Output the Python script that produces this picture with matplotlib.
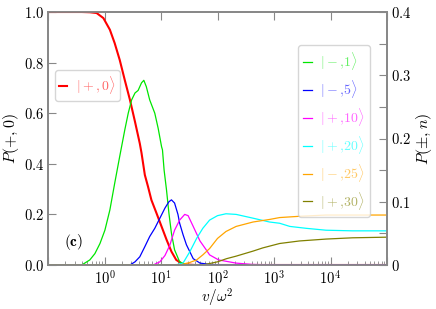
import numpy as np
import matplotlib
matplotlib.use("Agg")
import matplotlib.pyplot as plt
from matplotlib.ticker import FixedLocator, FuncFormatter, LogLocator, NullFormatter, MultipleLocator

plt.rcParams['mathtext.fontset'] = 'cm'
plt.rcParams['font.family'] = ['DejaVu Serif']

# ---- data (log10 of v/omega^2, probabilities) ----
red_lg = [-1.0, -0.4, -0.26, -0.14, -0.02, 0.095, 0.18, 0.27, 0.36, 0.45, 0.54, 0.625, 0.655,
          0.714, 0.77, 0.83, 0.92, 1.01, 1.1, 1.185, 1.27, 1.39, 1.6, 5.0]
red_p = [1.0, 1.0, 0.999, 0.996, 0.976, 0.93, 0.877, 0.81, 0.73, 0.653, 0.566, 0.48, 0.443,
         0.356, 0.31, 0.257, 0.205, 0.152, 0.099, 0.053, 0.02, 0.003, 0.0, 0.0]

green_lg = [-1.0, -0.4, -0.35, -0.26, -0.17, -0.08, 0.007, 0.095, 0.18, 0.27, 0.36, 0.42, 0.48,
            0.54, 0.595, 0.655, 0.696, 0.74, 0.8, 0.89, 0.95, 1.01, 1.026, 1.055, 1.097, 1.14,
            1.185, 1.24, 1.33, 1.45, 5.0]
green_p = [0.0, 0.0, 0.003, 0.008, 0.018, 0.034, 0.055, 0.087, 0.129, 0.172, 0.214, 0.240, 0.261,
           0.272, 0.276, 0.288, 0.292, 0.282, 0.261, 0.240, 0.216, 0.187, 0.182, 0.150, 0.119,
           0.082, 0.050, 0.024, 0.005, 0.0, 0.0]

blue_lg = [-1.0, 0.45, 0.54, 0.625, 0.714, 0.8, 0.89, 0.98, 1.07, 1.14, 1.185, 1.24, 1.30, 1.33,
           1.39, 1.45, 1.57, 1.69, 1.86, 2.1, 5.0]
blue_p = [0.0, 0.0, 0.005, 0.013, 0.029, 0.045, 0.058, 0.074, 0.090, 0.100, 0.103, 0.098, 0.080,
          0.066, 0.048, 0.032, 0.010, 0.003, 0.001, 0.0, 0.0]

magenta_lg = [-1.0, 0.86, 0.98, 1.07, 1.155, 1.24, 1.33, 1.42, 1.48, 1.57, 1.69, 1.80, 1.86,
              2.02, 2.33, 2.6, 3.0, 5.0]
magenta_p = [0.0, 0.0, 0.005, 0.015, 0.031, 0.055, 0.071, 0.080, 0.078, 0.061, 0.038, 0.024,
             0.016, 0.008, 0.003, 0.001, 0.0, 0.0]

cyan_lg = [-1.0, 1.25, 1.39, 1.51, 1.63, 1.74, 1.86, 2.0, 2.15, 2.33, 2.63, 2.92, 3.10, 3.28,
           3.57, 3.92, 4.39, 5.0]
cyan_p = [0.0, 0.0, 0.003, 0.021, 0.042, 0.058, 0.071, 0.078, 0.081, 0.080, 0.074, 0.068, 0.066,
          0.061, 0.058, 0.055, 0.054, 0.054]

orange_lg = [-1.0, 1.33, 1.51, 1.63, 1.74, 1.86, 2.0, 2.15, 2.33, 2.63, 2.92, 3.10, 3.45, 3.92,
             5.0]
orange_p = [0.0, 0.0, 0.004, 0.008, 0.016, 0.026, 0.042, 0.053, 0.061, 0.068, 0.072, 0.075,
            0.077, 0.079, 0.079]

olive_lg = [-1.0, 1.74, 2.0, 2.16, 2.33, 2.63, 2.80, 3.10, 3.45, 3.92, 4.39, 5.0]
olive_p = [0.0, 0.0, 0.005, 0.010, 0.014, 0.022, 0.027, 0.034, 0.038, 0.041, 0.043, 0.044]

labels_right = [r'$|-{,}1\rangle$', r'$|-{,}5\rangle$', r'$|+{,}10\rangle$',
                r'$|+{,}20\rangle$', r'$|-{,}25\rangle$', r'$|+{,}30\rangle$']
colors_right = ['#00e600', 'blue', 'magenta', 'cyan', 'orange', 'olive']
series_right = [(green_lg, green_p), (blue_lg, blue_p), (magenta_lg, magenta_p),
                (cyan_lg, cyan_p), (orange_lg, orange_p), (olive_lg, olive_p)]

left_ticks = [0.0, 0.2, 0.4, 0.6, 0.8, 1.0]
right_ticks = [0.0, 0.1, 0.2, 0.3, 0.4]
x_labelled_decades = [0, 1, 2, 3, 4]

# ---- figure ----
fig = plt.figure(figsize=(4.36, 3.09), dpi=100)
ax1 = fig.add_axes([48/436, 1-265/309, 339/436, 253/309])
ax2 = ax1.twinx()

ax1.plot(10**np.array(red_lg), red_p, color='red', lw=1.5, label=r'$|+,0\rangle$', zorder=3)
for (lg, p), c, lab in zip(series_right, colors_right, labels_right):
    ax2.plot(10**np.array(lg), p, color=c, lw=0.9, label=lab)

ax1.set_xscale('log')
ax1.set_xlim(1e-1, 1e5)
ax1.set_ylim(0, 1.0)
ax2.set_ylim(0, 0.4)

ax1.xaxis.set_major_locator(LogLocator(base=10, numticks=20))
ax1.xaxis.set_minor_locator(LogLocator(base=10, subs=np.arange(2, 10), numticks=50))
ax1.xaxis.set_minor_formatter(NullFormatter())
ax1.xaxis.set_major_formatter(FuncFormatter(
    lambda v, pos: (r'$10^{%d}$' % round(np.log10(v)))
    if round(np.log10(v)) in x_labelled_decades else ''))

ax1.yaxis.set_major_locator(FixedLocator(left_ticks))
ax1.yaxis.set_major_formatter(FuncFormatter(lambda v, pos: r'$%.1f$' % v))
ax2.yaxis.set_major_locator(FixedLocator(right_ticks))
ax2.yaxis.set_minor_locator(MultipleLocator(0.05))
ax2.yaxis.set_major_formatter(FuncFormatter(lambda v, pos: r'$0$' if v == 0 else r'$%.1f$' % v))

gray = '#888888'
for ax in (ax1, ax2):
    for s in ax.spines.values():
        s.set_color(gray)
        s.set_linewidth(1.3)

fs_tick = 10.5
ax1.tick_params(axis='x', which='major', direction='in', length=6, width=0.8, color=gray,
                top=True, labelsize=fs_tick, pad=3)
ax1.tick_params(axis='x', which='minor', direction='in', length=3, width=0.6, color=gray,
                top=False)
ax1.tick_params(axis='y', which='major', direction='in', length=6, width=0.8, color=gray,
                labelsize=fs_tick, pad=3)
ax2.tick_params(axis='y', which='both', direction='in', length=6, width=0.8, color=gray,
                labelsize=fs_tick, pad=3)

ax1.set_xlabel(r'$v/\omega^2$', fontsize=11, labelpad=0)
ax1.set_ylabel(r'$P(+,0)$', fontsize=11.5, labelpad=2)
ax2.set_ylabel(r'$P(\pm,n)$', fontsize=11.5, labelpad=2)

ax1.text(0.077, 0.091, r'$\mathbf{(c)}$', transform=ax1.transAxes, fontsize=11,
         ha='center', va='center')

leg1 = ax1.legend(loc='upper left', bbox_to_anchor=(0.02, 0.77), borderaxespad=0,
                  handlelength=0.6, handletextpad=0.6, fontsize=10, framealpha=0.8,
                  borderpad=0.3)
for t in leg1.get_texts():
    t.set_color('red')
    t.set_alpha(0.6)

leg2 = ax2.legend(loc='upper right', bbox_to_anchor=(0.95, 0.87), borderaxespad=0,
                  handlelength=0.6, handletextpad=0.6, fontsize=10, framealpha=0.8,
                  labelspacing=0.42, borderpad=0.4)
for t, c in zip(leg2.get_texts(), colors_right):
    t.set_color(c)
    t.set_alpha(0.6)

fig.savefig('out.png', dpi=100)
